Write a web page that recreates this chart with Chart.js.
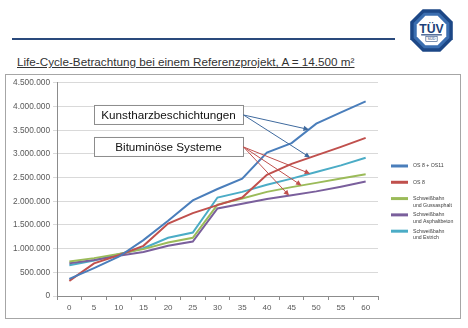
<!DOCTYPE html>
<html>
<head>
<meta charset="utf-8">
<script src="https://cdn.jsdelivr.net/npm/chart.js@4"></script>
<style>
  body { margin: 0; width: 468px; height: 328px; background: #fff; position: relative; overflow: hidden;
         font-family: "Liberation Sans", Arial, sans-serif; }
  .rule { position: absolute; left: 12px; top: 38px; width: 383px; height: 2px; background: #2a4a7c; }
  .title { position: absolute; left: 17px; top: 55px; font-size: 11.7px; color: #333; white-space: nowrap;
           text-decoration: underline; text-underline-offset: 1px; }
  .frame { position: absolute; left: 5px; top: 74px; width: 454px; height: 243px; border: 1px solid #a6a6a6; }
  .logo { position: absolute; left: 408px; top: 7px; width: 47px; height: 47px; }
</style>
</head>
<body>
<div class="rule"></div>
<svg class="logo" viewBox="0 0 100 100">
  <polygon points="95.3,31.2 95.3,68.8 68.8,95.3 31.2,95.3 4.7,68.8 4.7,31.2 31.2,4.7 68.8,4.7" fill="#1c4786"/>
  <polygon points="88,34 88,66 66,88 34,88 12,66 12,34 34,12 66,12" fill="#3b6eb0"/>
  <polygon points="81.4,37 81.4,63 63,81.4 37,81.4 18.6,63 18.6,37 37,18.6 63,18.6" fill="#fff"/>
  <text x="50" y="55" text-anchor="middle" font-family="Liberation Sans, Arial" font-weight="bold" font-size="26" fill="#1c3f78">TÜV</text>
  <rect x="28" y="58" width="44" height="2.5" fill="#1c3f78"/>
  <rect x="38" y="63" width="24" height="10" fill="none" stroke="#1c3f78" stroke-width="1.2"/>
  <text x="50" y="71" text-anchor="middle" font-family="Liberation Sans, Arial" font-size="8" fill="#1c3f78">SÜD</text>
</svg>
<div class="title">Life-Cycle-Betrachtung bei einem Referenzprojekt, A = 14.500 m²</div>
<div class="frame"><canvas id="lcc" width="454" height="243"></canvas></div>

<script>
// Jahre der Betrachtung
const years = ['0', '5', '10', '15', '20', '25', '30', '35', '40', '45', '50', '55', '60'];

// kumulierte Kosten in EUR
const os8os11 = [360000, 590000, 830000, 1180000, 1590000, 2020000, 2260000, 2480000, 3030000, 3230000, 3640000, 3880000, 4110000];
const os8 = [320000, 690000, 860000, 1060000, 1530000, 1750000, 1920000, 2080000, 2560000, 2790000, 2970000, 3150000, 3340000];
const gussasphalt = [730000, 800000, 890000, 990000, 1130000, 1230000, 1930000, 2060000, 2200000, 2300000, 2390000, 2480000, 2570000];
const asphaltbeton = [690000, 760000, 850000, 930000, 1060000, 1150000, 1850000, 1950000, 2050000, 2130000, 2210000, 2310000, 2420000];
const estrich = [650000, 750000, 880000, 1010000, 1230000, 1340000, 2080000, 2200000, 2350000, 2480000, 2620000, 2760000, 2920000];

const seriesNames = [
    ['OS 8 + OS11'],
    ['OS 8'],
    ['Schweißbahn', 'und Gussasphalt'],
    ['Schweißbahn', 'und Asphaltbeton'],
    ['Schweißbahn', 'und Estrich']
];
const seriesColors = ['#4a7ebb', '#c0504d', '#9bbb59', '#7a5f9c', '#4bacc6'];

// Beschriftungen mit Pfeilen auf die Kurven (Kurve, Position auf der x-Achse)
const callouts = [
    { text: 'Kunstharzbeschichtungen', color: '#3f6a9e', targets: [[os8os11, 9.7], [os8, 9.75]] },
    { text: 'Bituminöse Systeme', color: '#c0504d', targets: [[estrich, 9.75], [gussasphalt, 9.4], [asphaltbeton, 8.9]] }
];

function fmt(v) {
    return String(v).replace(/\B(?=(\d{3})+(?!\d))/g, '.');
}

function valueAt(series, pos) {
    const i = Math.floor(pos), f = pos - i;
    return series[i] + (series[i + 1] - series[i]) * f;
}

function arrow(ctx, x0, y0, x1, y1, color) {
    const a = Math.atan2(y1 - y0, x1 - x0);
    ctx.strokeStyle = color;
    ctx.fillStyle = color;
    ctx.lineWidth = 1;
    ctx.beginPath();
    ctx.moveTo(x0, y0);
    ctx.lineTo(x1 - 4 * Math.cos(a), y1 - 4 * Math.sin(a));
    ctx.stroke();
    ctx.beginPath();
    ctx.moveTo(x1, y1);
    ctx.lineTo(x1 - 6 * Math.cos(a - 0.45), y1 - 6 * Math.sin(a - 0.45));
    ctx.lineTo(x1 - 6 * Math.cos(a + 0.45), y1 - 6 * Math.sin(a + 0.45));
    ctx.closePath();
    ctx.fill();
}

const calloutPlugin = {
    id: 'callouts',
    afterDatasetsDraw(chart) {
        const { ctx, chartArea, scales } = chart;
        ctx.save();
        callouts.forEach((c, n) => {
            const left = chartArea.left + 37, top = chartArea.top + 22 + n * 32;
            const w = 149, h = 19;
            ctx.fillStyle = '#fff';
            ctx.fillRect(left, top, w, h);
            ctx.strokeStyle = '#8c8c8c';
            ctx.lineWidth = 1;
            ctx.strokeRect(left + 0.5, top + 0.5, w, h);
            ctx.fillStyle = '#111';
            ctx.font = '11.7px "Liberation Sans", Arial, sans-serif';
            ctx.textAlign = 'center';
            ctx.textBaseline = 'middle';
            ctx.fillText(c.text, left + w / 2, top + h / 2 + 1);
            c.targets.forEach(([series, pos]) => {
                const tx = scales.x.getPixelForValue(pos);
                const ty = scales.y.getPixelForValue(valueAt(series, pos));
                arrow(ctx, left + w + 0.5, top + h / 2 + 0.5, tx, ty, c.color);
            });
        });
        ctx.restore();
    }
};

const legendPlugin = {
    id: 'sideLegend',
    afterDraw(chart) {
        const { ctx, chartArea } = chart;
        ctx.save();
        ctx.font = '5.2px "Liberation Sans", Arial, sans-serif';
        ctx.textAlign = 'left';
        ctx.textBaseline = 'middle';
        seriesNames.forEach((lines, i) => {
            const y = chartArea.top + 83 + i * 16.3;
            ctx.strokeStyle = seriesColors[i];
            ctx.lineWidth = 3;
            ctx.beginPath();
            ctx.moveTo(chartArea.right + 13, y);
            ctx.lineTo(chartArea.right + 30, y);
            ctx.stroke();
            ctx.fillStyle = '#404040';
            lines.forEach((t, k) => ctx.fillText(t, chartArea.right + 35, y + k * 6.5));
        });
        ctx.restore();
    }
};

const datasets = [os8os11, os8, gussasphalt, asphaltbeton, estrich].map((data, i) => ({
    label: seriesNames[i].join(' '),
    data: data,
    borderColor: seriesColors[i],
    backgroundColor: seriesColors[i],
    borderWidth: 2,
    pointRadius: 0,
    tension: 0
}));

new Chart(document.getElementById('lcc').getContext('2d'), {
    type: 'line',
    data: { labels: years, datasets: datasets },
    options: {
        responsive: false,
        animation: false,
        layout: { padding: { top: 6, right: 82, left: 0, bottom: 0 } },
        plugins: {
            legend: { display: false },
            tooltip: { enabled: false }
        },
        scales: {
            x: {
                offset: true,
                grid: { offset: true, drawOnChartArea: false, drawTicks: true, tickLength: 4, color: '#8c8c8c' },
                border: { color: '#8c8c8c' },
                ticks: { color: '#595959', font: { size: 8, family: '"Liberation Sans", Arial' }, padding: 3 },
                afterFit: (scale) => { scale.height = 22; }
            },
            y: {
                min: 0,
                max: 4500000,
                ticks: {
                    stepSize: 500000,
                    color: '#595959',
                    font: { size: 8.3, family: '"Liberation Sans", Arial' },
                    padding: 3,
                    callback: (v) => fmt(v)
                },
                grid: { color: '#d9d9d9', tickLength: 4 },
                border: { color: '#8c8c8c' },
                afterFit: (scale) => { scale.width = 51; }
            }
        }
    },
    plugins: [calloutPlugin, legendPlugin]
});
</script>
</body>
</html>
